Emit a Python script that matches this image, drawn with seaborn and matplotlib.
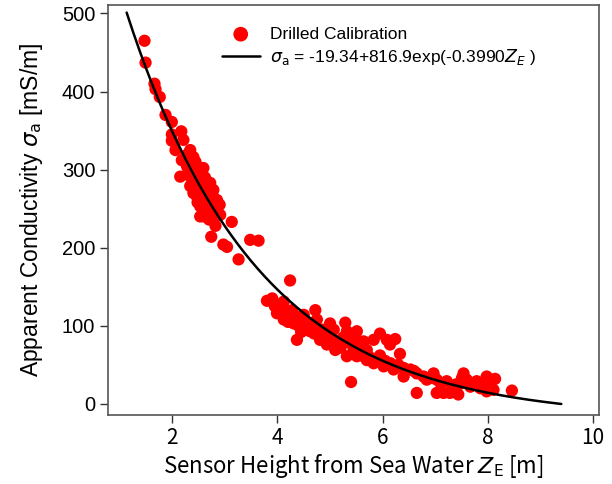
import numpy as np
import pandas as pd
import matplotlib
matplotlib.use("Agg")
import matplotlib.pyplot as plt
import seaborn as sns

# ---- data ----
z_top = [1.47, 1.49, 1.66, 1.68, 1.76, 1.87, 1.99, 1.99, 2.17, 2.21, 2.06, 1.99, 2.31, 2.40, 2.34]
s_top = [465, 437, 410, 403, 393, 370, 361, 345, 349, 338, 325, 337, 321, 316, 325]

z_cluster = [2.15, 2.18, 2.28, 2.47, 2.34, 2.59, 2.72, 2.34, 2.50, 2.78, 2.47, 2.66, 2.85, 2.53,
             2.72, 2.87, 2.53, 2.72, 2.91, 2.59, 2.44, 2.38, 2.42, 2.55, 2.62, 2.45, 2.58, 2.68,
             2.75, 2.80, 2.64, 2.60, 2.70, 2.82, 2.49, 2.40, 2.52, 2.30, 2.36, 2.62, 2.70, 2.77,
             2.85, 2.57, 2.66, 2.43, 2.54, 2.60, 2.48, 2.68, 2.90, 2.76, 2.63, 2.26, 2.50]
s_cluster = [291, 312, 304, 304, 291, 287, 283, 279, 274, 274, 265, 265, 261, 253,
             253, 253, 240, 242, 242, 302, 310, 300, 285, 295, 278, 270, 262, 270,
             260, 248, 248, 255, 236, 240, 282, 270, 290, 296, 308, 290, 258, 266,
             246, 270, 245, 296, 280, 240, 258, 280, 255, 250, 262, 318, 300]

z_mid = [2.82, 3.13, 2.74, 2.97, 3.04, 3.48, 3.64, 3.26, 4.24]
s_mid = [228, 233, 214, 204, 201, 210, 209, 185, 158]

z_band = [3.80, 3.90, 4.02, 4.12, 3.99, 4.15, 4.12, 4.24, 4.31, 4.37, 4.50, 4.72, 4.75, 4.59,
          4.62, 4.81, 5.00, 5.07, 4.94, 5.10, 5.29, 5.32, 5.51, 5.51, 5.64, 5.38, 5.32, 5.51,
          5.70, 5.70, 5.40, 5.83, 5.95, 6.08, 6.24, 6.14, 6.33, 5.83, 6.02, 6.21,
          3.95, 4.05, 4.20, 4.28, 4.40, 4.45, 4.55, 4.65, 4.70, 4.85, 4.90, 4.45, 4.35, 4.18,
          4.08, 5.00, 5.15, 5.20, 5.25, 5.45, 5.55, 5.60, 5.75, 5.90, 5.95, 6.05, 6.15, 6.30,
          6.40, 5.05, 5.40, 5.65]
s_band = [132, 135, 127, 131, 116, 120, 108, 114, 103, 82, 114, 120, 108, 99,
          93, 82, 103, 95, 76, 69, 104, 93, 93, 82, 80, 78, 61, 61,
          69, 56, 28, 82, 90, 82, 83, 76, 64, 52, 48, 44,
          125, 118, 105, 120, 100, 110, 105, 100, 90, 95, 88, 92, 112, 112,
          122, 85, 80, 72, 85, 70, 72, 62, 60, 55, 62, 55, 52, 50,
          46, 78, 88, 66]

z_tail = [6.53, 6.65, 6.40, 6.78, 6.97, 6.65, 6.84, 7.03, 7.22, 7.03, 7.16, 7.28, 7.44, 7.54,
          7.48, 7.67, 7.60, 7.86, 7.98, 8.14, 7.92, 8.11, 8.46, 7.98, 7.35, 7.32, 7.51, 7.79,
          6.60, 6.90, 7.10, 7.40, 8.05]
s_tail = [44, 39, 35, 35, 39, 14, 31, 31, 29, 14, 14, 14, 12, 39,
          26, 22, 31, 20, 35, 32, 26, 18, 17, 16, 22, 18, 33, 29,
          42, 33, 27, 25, 25]

# fitted model parameters (from the legend)
fit_a, fit_b, fit_c = -19.34, 816.9, -0.3990
fit_zmin, fit_zmax = 1.13, 9.4

xticks = [2, 4, 6, 8, 10]
yticks = [0, 100, 200, 300, 400, 500]

# ---- build frames ----
pts = pd.DataFrame({
    "z": z_top + z_cluster + z_mid + z_band + z_tail,
    "s": s_top + s_cluster + s_mid + s_band + s_tail,
})
zf = np.linspace(fit_zmin, fit_zmax, 200)
fit = pd.DataFrame({"z": zf, "s": fit_a + fit_b * np.exp(fit_c * zf)})

sns.set_style("white")
plt.rcParams["font.family"] = ["Liberation Sans", "DejaVu Sans"]
plt.rcParams["mathtext.fontset"] = "dejavusans"
plt.rcParams["text.color"] = "black"
plt.rcParams["axes.labelcolor"] = "black"
plt.rcParams["xtick.color"] = "black"
plt.rcParams["ytick.color"] = "black"

fig = plt.figure(figsize=(6.12, 4.84), dpi=100)
ax = fig.add_axes([0.176, 0.143, 0.803, 0.847])

sns.scatterplot(data=pts, x="z", y="s", ax=ax, color="#ff0000", s=78,
                edgecolor="none", linewidth=0, label="Drilled Calibration", zorder=2)
sns.lineplot(data=fit, x="z", y="s", ax=ax, color="black", linewidth=1.8,
             label=r"$\sigma_{\rm a}$ = -19.34+816.9exp(-0.3990$Z_E$ )", zorder=3)

ax.set_xlim(0.77, 10.12)
ax.set_ylim(-14, 511)
ax.set_xticks(xticks)
ax.set_yticks(yticks)
ax.set_xticklabels([str(t) for t in xticks], fontsize=15,
                   family=["Noto Sans CJK JP", "DejaVu Sans"])
ax.set_yticklabels([str(t) for t in yticks], fontsize=14.5)
ax.tick_params(axis="both", direction="out", length=6, width=1, color="#333333",
               bottom=True, left=True, pad=3)

for sp in ax.spines.values():
    sp.set_color("#555555")
    sp.set_linewidth(1.2)

ax.set_xlabel(r"Sensor Height from Sea Water $Z_{\rm E}$ [m]", fontsize=16,
              family=["Noto Sans CJK JP", "DejaVu Sans"], labelpad=2)
ax.set_ylabel(r"Apparent Conductivity $\sigma_{\rm a}$ [mS/m]", fontsize=16.5, labelpad=12)

leg = ax.legend(loc="upper left", bbox_to_anchor=(0.20, 0.985), frameon=False,
                fontsize=12.5, handlelength=2.2, handletextpad=0.6,
                labelspacing=0.3, markerscale=1.2)

fig.savefig("out.png", dpi=100)
